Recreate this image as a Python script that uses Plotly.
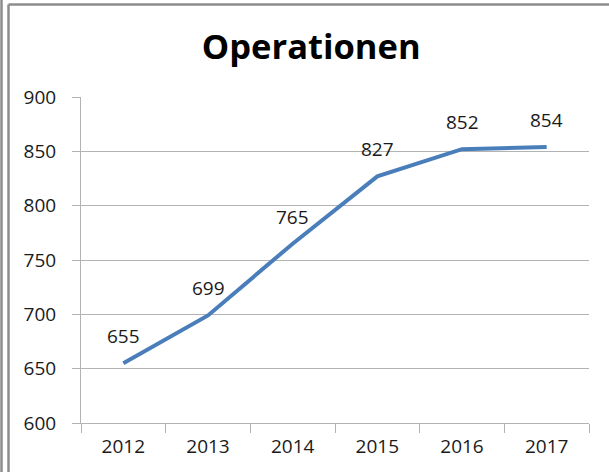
import plotly.graph_objects as go

years = ["2012", "2013", "2014", "2015", "2016", "2017"]
operationen = [655, 699, 765, 827, 852, 854]
y_ticks = [600, 650, 700, 750, 800, 850, 900]
title_text = "Operationen"

FONT = "Open Sans"
GRID = "#b3b3b3"
BORDER = "#8c8c8c"

fig = go.Figure()
fig.add_trace(go.Scatter(
    x=years, y=operationen, mode="lines",
    line=dict(color="#4a7ebb", width=4),
    hoverinfo="x+y", showlegend=False,
))

annotations = []
for i, v in enumerate(operationen):
    annotations.append(dict(
        x=i, y=v, xref="x", yref="y", text=str(v), showarrow=False,
        yshift=27, yanchor="middle", xanchor="center",
        font=dict(family=FONT, size=19, color="#1a1a1a"),
    ))

# pixel -> paper helpers (plot area: x 81..589, y 97..423)
L, R, T, B = 81, 589, 97, 423
def px(x):
    return (x - L) / (R - L)
def py(y):
    return (B - y) / (B - T)

shapes = [
    dict(type="line", xref="paper", yref="paper", x0=px(8.5), x1=px(612), y0=py(4.5), y1=py(4.5),
         line=dict(color=BORDER, width=2.5)),
    dict(type="line", xref="paper", yref="paper", x0=px(8.5), x1=px(8.5), y0=py(4.5), y1=py(475),
         line=dict(color=BORDER, width=2.5)),
    dict(type="line", xref="paper", yref="paper", x0=px(1.5), x1=px(1.5), y0=py(-3), y1=py(475),
         line=dict(color=BORDER, width=2.5)),
]

fig.update_layout(
    width=609, height=472,
    margin=dict(l=L, r=609 - R, t=T, b=472 - B),
    paper_bgcolor="white", plot_bgcolor="white",
    title=dict(text="<b>" + title_text + "</b>", x=0.511, xref="container", xanchor="center",
               y=1 - 47 / 472, yref="container", yanchor="middle",
               font=dict(family=FONT, size=34.5, color="black")),
    annotations=annotations,
    shapes=shapes,
    xaxis=dict(
        type="category", tickson="boundaries", ticks="outside", ticklen=9,
        tickcolor=GRID, tickwidth=1, showline=True, linecolor=GRID, linewidth=1,
        showgrid=False, range=[-0.5, 5.5],
        tickfont=dict(family=FONT, size=19, color="#1a1a1a"),
        ticklabelstandoff=6,
    ),
    yaxis=dict(
        range=[600, 900], tickvals=y_ticks, ticks="outside", ticklen=8,
        tickcolor=GRID, showline=True, linecolor=GRID, linewidth=1,
        showgrid=True, gridcolor=GRID, gridwidth=1, zeroline=False,
        tickfont=dict(family=FONT, size=19, color="#1a1a1a"),
        ticklabelstandoff=12,
    ),
)

fig.write_html("out.html", config={"displayModeBar": False},
               post_script="document.body.style.margin='0';document.body.style.overflow='hidden';")
